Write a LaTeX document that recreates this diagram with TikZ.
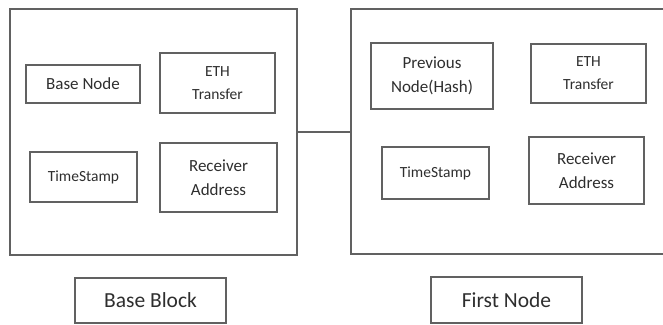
\documentclass[tikz,border=0pt]{standalone}
\usepackage{fontspec}
\setmainfont{Carlito}
\begin{document}
\begin{tikzpicture}[x=1pt,y=-1pt,
  frame/.style={draw=black!62, line width=1.6pt, rectangle, inner sep=0pt},
  field/.style={frame, align=center, text=black!82, font=\fontsize{17}{24}\selectfont},
  small/.style={field, font=\fontsize{15.5}{23}\selectfont},
  caption/.style={frame, text=black!82, font=\fontsize{21.5}{24}\selectfont},
  link/.style={draw=black!62, line width=1.6pt}]
\useasboundingbox (0,0) rectangle (663,324);
% big blocks
\node[frame, minimum width=287pt, minimum height=246pt] (base) at (153.5,132) {};
\node[frame, minimum width=325pt, minimum height=245pt] (first) at (513.5,131.5) {};
% left fields
\node[field, minimum width=114pt, minimum height=38pt] (bn) at (83,84) {Base Node};
\node[small, minimum width=115pt, minimum height=60pt] (eth1) at (217.5,83) {ETH\\Transfer};
\node[small, minimum width=107pt, minimum height=50pt] (ts1) at (83.5,177) {TimeStamp};
\node[field, minimum width=117pt, minimum height=69pt] (ra1) at (218.5,177.5) {Receiver\\Address};
% right fields
\node[field, minimum width=122pt, minimum height=66pt] (pn) at (432,76) {Previous\\Node(Hash)};
\node[small, minimum width=115pt, minimum height=59pt] (eth2) at (588.5,73.5) {ETH\\Transfer};
\node[small, minimum width=107pt, minimum height=52pt] (ts2) at (435.5,173) {TimeStamp};
\node[field, minimum width=115pt, minimum height=67pt] (ra2) at (586.5,170.5) {Receiver\\Address};
% captions
\node[caption, minimum width=151pt, minimum height=45pt] (bb) at (150.5,300.5) {Base Block};
\node[caption, minimum width=151pt, minimum height=46pt] (fn) at (506.5,300) {First Node};
% connector
\draw[link] (base.east) -- (base.east -| first.west);
\end{tikzpicture}
\end{document}
